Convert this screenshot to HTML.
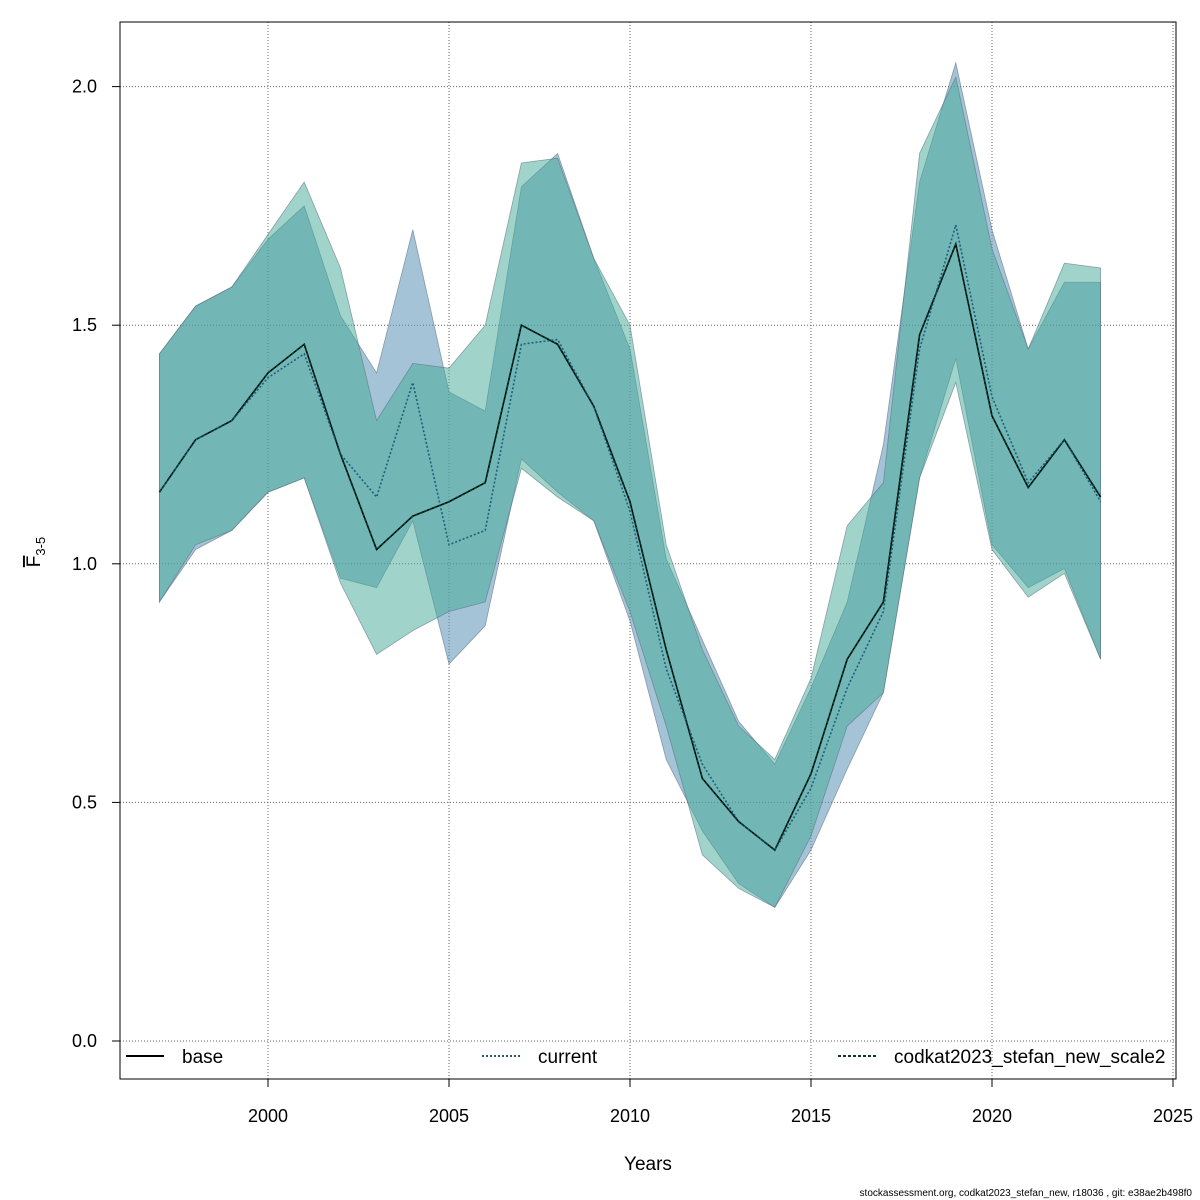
<!DOCTYPE html>
<html><head><meta charset="utf-8"><style>
html,body{margin:0;padding:0;background:#fff;}
svg{display:block;font-family:"Liberation Sans",sans-serif;}
</style></head><body>
<svg id="chart" width="1200" height="1200"></svg>
<script>
const years=[1997,1998,1999,2000,2001,2002,2003,2004,2005,2006,2007,2008,2009,2010,2011,2012,2013,2014,2015,2016,2017,2018,2019,2020,2021,2022,2023];
const baseF=[1.15,1.26,1.30,1.40,1.46,1.23,1.03,1.10,1.13,1.17,1.50,1.46,1.33,1.13,0.82,0.55,0.46,0.40,0.56,0.80,0.92,1.48,1.67,1.31,1.16,1.26,1.14];
const currentF=[1.15,1.26,1.30,1.39,1.44,1.23,1.14,1.38,1.04,1.07,1.46,1.47,1.33,1.11,0.78,0.58,0.46,0.40,0.53,0.74,0.90,1.45,1.71,1.35,1.17,1.26,1.13];
const codkatF=[1.15,1.26,1.30,1.40,1.46,1.23,1.03,1.10,1.13,1.17,1.50,1.46,1.33,1.13,0.82,0.55,0.46,0.40,0.56,0.80,0.92,1.48,1.67,1.31,1.16,1.26,1.14];
const currentHi=[1.44,1.54,1.58,1.68,1.75,1.52,1.40,1.70,1.36,1.32,1.79,1.86,1.64,1.45,1.01,0.84,0.67,0.58,0.74,0.92,1.25,1.80,2.05,1.70,1.45,1.59,1.59];
const currentLo=[0.92,1.03,1.07,1.15,1.18,0.97,0.95,1.09,0.79,0.87,1.22,1.15,1.09,0.88,0.59,0.44,0.33,0.28,0.40,0.57,0.73,1.18,1.43,1.04,0.95,0.99,0.80];
const codkatHi=[1.44,1.54,1.58,1.69,1.80,1.62,1.30,1.42,1.41,1.50,1.84,1.85,1.64,1.50,1.04,0.82,0.66,0.59,0.76,1.08,1.17,1.86,2.02,1.66,1.45,1.63,1.62];
const codkatLo=[0.92,1.04,1.07,1.15,1.18,0.96,0.81,0.86,0.90,0.92,1.20,1.14,1.09,0.90,0.66,0.39,0.32,0.28,0.43,0.66,0.73,1.18,1.38,1.03,0.93,0.98,0.80];
const xTicks=[2000,2005,2010,2015,2020,2025];
const yTicks=[0,0.5,1,1.5,2];
const yTickLabels=["0.0","0.5","1.0","1.5","2.0"];

const svg=document.getElementById('chart');
const NS='http://www.w3.org/2000/svg';
const X=y=>268+(y-2000)*36.2;
const Y=v=>1041-v*477.2;
function mk(tag,attrs,parent){const e=document.createElementNS(NS,tag);for(const k in attrs)e.setAttribute(k,attrs[k]);(parent||svg).appendChild(e);return e;}

// grid
xTicks.forEach(t=>{const g=mk('line',{x1:X(t),x2:X(t),y1:22,y2:1079,stroke:'#666','stroke-dasharray':'1,2','stroke-width':1});

});
yTicks.forEach(t=>{const g=mk('line',{x1:120,x2:1176,y1:Y(t),y2:Y(t),stroke:'#666','stroke-dasharray':'1,2','stroke-width':1});

});

function band(hi,lo,fill,name){
  let d='M'+years.map((y,i)=>X(y)+','+Y(hi[i])).join('L');
  d+='L'+years.slice().reverse().map((y,j)=>{const i=years.length-1-j;return X(y)+','+Y(lo[i]);}).join('L')+'Z';
  const p=mk('path',{d:d,fill:fill,stroke:'rgba(90,110,130,0.6)','stroke-width':0.8});
  
  
}
band(currentHi,currentLo,'rgba(90,145,180,0.55)','current-ci-band');
band(codkatHi,codkatLo,'rgba(65,170,150,0.5)','codkat-ci-band');

function line(vals,stroke,dash,w,name){
  const p=mk('polyline',{points:years.map((y,i)=>X(y)+','+Y(vals[i])).join(' '),fill:'none',stroke:stroke,'stroke-width':w,'stroke-dasharray':dash});
  
  
}
line(baseF,'#000','none',1.6,'base-line');
line(currentF,'#1f5f7a','2,2',1.6,'current-line');
line(codkatF,'#0a3a30','3,2',1.6,'codkat-line');

// axes box
const box=mk('rect',{x:120,y:22,width:1056,height:1057,fill:'none',stroke:'#000','stroke-width':1});



xTicks.forEach(t=>{mk('line',{x1:X(t),x2:X(t),y1:1079,y2:1087,stroke:'#000'});
const tx=mk('text',{x:X(t),y:1122,'text-anchor':'middle','font-size':18});tx.textContent=t;

});
yTicks.forEach((t,i)=>{mk('line',{x1:112,x2:120,y1:Y(t),y2:Y(t),stroke:'#000'});
const tx=mk('text',{x:97,y:Y(t)+6,'text-anchor':'end','font-size':18});tx.textContent=yTickLabels[i];

});

const xt=mk('text',{x:648,y:1170,'text-anchor':'middle','font-size':19});xt.textContent='Years';


const yt=mk('text',{transform:'translate(40,552) rotate(-90)','text-anchor':'middle','font-size':19});
yt.innerHTML='<tspan text-decoration="overline">F</tspan><tspan font-size="13" dy="5">3-5</tspan>';



// legend
const leg=[[126,'base','#000','none'],[482,'current','#1f5f7a','2,2'],[838,'codkat2023_stefan_new_scale2','#0a3a30','3,2']];
leg.forEach(l=>{mk('line',{x1:l[0],x2:l[0]+38,y1:1056,y2:1056,stroke:l[2],'stroke-width':2,'stroke-dasharray':l[3]});
const tx=mk('text',{x:l[0]+56,y:1063,'font-size':19});tx.textContent=l[1];

});

const ft=mk('text',{x:1192,y:1196,'text-anchor':'end','font-size':10});
ft.textContent='stockassessment.org, codkat2023_stefan_new, r18036 , git: e38ae2b498f0';


</script>
</body></html>
